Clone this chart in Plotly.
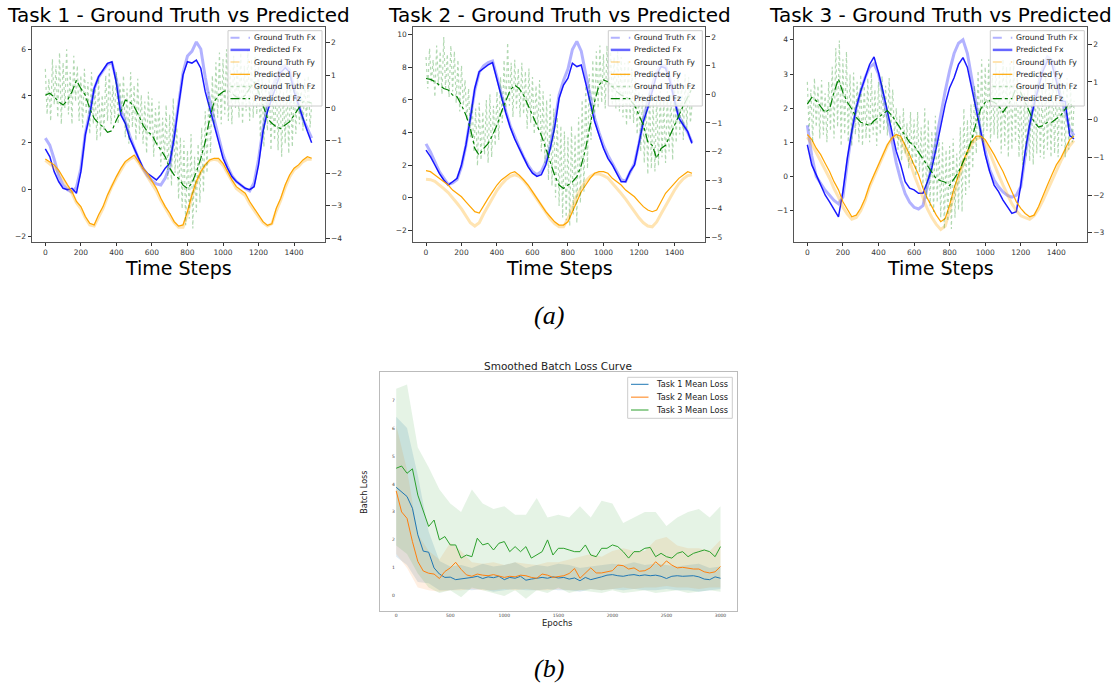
import plotly.graph_objects as go

W, H = 1118, 688
def px(x): return x / W
def py(y): return 1 - y / H

# ---------------- data: time axis ----------------
T25 = list(range(0, 1500, 25)) + [1499]
T10 = list(range(0, 1501, 10))

# ---------------- Task 1 ----------------
t1_gt_fx = [2.2,1.9,1.3,0.6,0.2,0.0,-0.1,0.1,0.9,2.4, 3.3,4.3,4.8,5.1,5.35,5.4,4.7,3.4,2.9,2.3,
            1.8,1.3,0.9,0.6,0.4,0.25,0.2,0.5,1.0,2.3, 3.8,5.0,5.7,5.9,6.3,6.0,4.8,3.8,3.0,2.2,
            1.5,1.0,0.6,0.35,0.2,0.05,-0.05,0.3,1.3,2.6, 3.6,4.3,4.8,5.2,5.3,5.1,4.3,3.7,3.0,2.6, 2.2]
t1_pr_fx = [1.74,1.41,0.77,0.35,0.06,0.0,0.06,-0.15,0.77,2.34, 3.19,4.32,4.82,5.1,5.39,5.46,4.54,3.19,2.83,2.19,
            1.77,1.34,0.92,0.7,0.56,0.42,0.63,0.92,1.13,2.19, 3.6,4.9,5.46,5.4,5.53,5.18,4.18,3.47,2.76,2.05,
            1.34,0.92,0.56,0.35,0.2,0.06,0.0,0.13,1.06,2.48, 3.33,3.9,4.47,5.0,5.2,5.0,4.18,3.6,2.97,2.48, 2.0]
t1_gt_fy = [1.25,1.1,0.95,0.75,0.45,0.15,-0.15,-0.55,-0.8,-1.2, -1.5,-1.55,-1.15,-0.8,-0.3,0.15,0.5,0.85,1.15,1.3,
            1.4,1.15,0.85,0.6,0.3,-0.05,-0.45,-0.8,-1.1,-1.4, -1.6,-1.6,-1.05,-0.3,0.3,0.75,1.05,1.25,1.3,1.25,
            1.05,0.7,0.35,0.05,-0.1,-0.25,-0.6,-0.9,-1.15,-1.4, -1.55,-1.45,-0.9,-0.45,0.1,0.55,0.85,1.0,1.2,1.3, 1.3]
t1_pr_fy = [1.31,1.2,1.06,0.84,0.49,0.2,-0.08,-0.5,-0.72,-1.14, -1.43,-1.5,-1.07,-0.72,-0.22,0.2,0.56,0.91,1.2,1.34,
            1.48,1.2,0.91,0.7,0.35,0.06,-0.36,-0.72,-1.0,-1.36, -1.55,-1.5,-0.93,-0.22,0.35,0.77,1.06,1.27,1.34,1.34,
            1.13,0.77,0.42,0.13,-0.01,-0.15,-0.5,-0.79,-1.07,-1.36, -1.52,-1.45,-0.79,-0.36,0.2,0.63,0.92,1.06,1.27,1.41, 1.34]
t1_gt_fz = [1.2,-0.2,0.9,-0.4,1.5,0.1,1.3,-0.3,1.7,-0.5,
            1.4,0.0,1.8,-0.2,1.1,-0.5,1.6,0.2,1.3,-0.4,
            1.0,-0.6,1.2,-0.2,0.8,-0.8,1.1,-0.5,0.6,-1.0,
            0.9,-0.9,0.4,-0.7,1.0,-0.4,1.2,-0.5,0.7,-0.3,
            1.1,-0.5,0.8,-0.2,1.0,-0.9,0.6,-1.1,1.1,-0.6,
            0.7,-1.0,0.9,-0.8,0.4,-1.1,0.2,-1.4,0.5,-0.9,
            0.3,-1.5,0.0,-1.2,0.2,-1.8,-0.3,-1.6,0.1,-2.2,
            -0.2,-2.4,0.3,-2.0,-0.6,-2.8,-0.9,-3.1,-1.0,-3.6,
            -1.3,-3.4,-0.8,-3.7,-1.5,-3.2,-1.1,-2.9,-0.6,-2.6,
            -0.1,-2.0,0.5,-1.4,1.0,-0.6,1.4,-0.3,1.7,-0.5,
            1.5,-0.2,1.8,-0.4,1.2,-0.5,1.6,0.0,1.4,-0.3,
            1.7,-0.5,1.3,-0.1,1.8,-0.4,1.5,-0.3,1.6,-0.2,
            1.3,-0.9,1.0,-1.2,0.8,-0.7,1.1,-1.3,0.6,-1.0,
            0.9,-1.3,1.0,-1.5,0.5,-1.1,0.8,-1.4,1.0,-1.2,
            0.8,-0.8,1.0,-0.5,0.7,-0.7,0.9,-0.4,1.0,-0.6,
            0.2]
t1_pr_fz = [0.39,0.45,0.34,0.19,0.09,0.24,0.5,0.85,0.6,0.39, -0.01,-0.32,-0.47,-0.58,-0.75,-0.7,-0.37,-0.12,0.24,0.19,
            0.04,-0.22,-0.53,-0.73,-0.83,-1.09,-1.29,-1.5,-1.85,-2.06, -2.16,-2.37,-2.47,-2.31,-1.96,-1.55,-1.04,-0.32,0.19,0.39,
            0.5,0.55,0.45,0.34,0.29,0.39,0.6,0.8,0.5,0.09, -0.32,-0.47,-0.58,-0.63,-0.53,-0.42,-0.22,-0.01,0.19,0.19, 0.15]

# ---------------- Task 2 ----------------
t2_gt_fx = [3.3,2.8,2.2,1.6,1.2,0.8,0.9,1.1,1.9,3.2, 4.9,6.6,7.7,8.1,8.3,8.4,7.4,6.3,5.3,4.4,
            3.7,3.1,2.5,2.0,1.6,1.4,1.6,2.2,3.2,4.6, 6.3,7.2,7.9,9.1,9.6,9.0,7.6,6.2,4.9,4.0,
            3.2,2.6,2.1,1.6,1.1,1.0,1.6,2.1,3.3,4.8, 5.9,6.9,7.7,8.1,8.1,7.3,6.0,5.0,4.5,4.0, 3.4]
t2_pr_fx = [2.92,2.51,2.0,1.49,1.08,0.77,0.97,1.18,2.0,3.23, 4.87,6.72,7.74,7.95,8.15,8.3,7.2,6.2,5.2,4.3,
            3.6,3.0,2.4,1.9,1.5,1.3,1.4,2.0,3.0,4.3, 6.1,6.92,7.33,8.26,8.05,8.15,7.03,5.9,4.67,3.85,
            3.03,2.41,2.0,1.49,0.97,0.97,1.59,2.0,3.23,4.67, 5.49,6.51,7.54,8.05,7.95,7.13,5.9,4.87,4.46,4.05, 3.33]
t2_gt_fy = [1.13,1.1,1.0,0.8,0.55,0.3,0.0,-0.35,-0.7,-1.1, -1.55,-1.75,-1.55,-1.0,-0.5,0.0,0.45,0.8,1.1,1.3,
            1.4,1.3,1.05,0.7,0.3,-0.1,-0.5,-0.9,-1.3,-1.6, -1.8,-1.8,-1.3,-0.6,0.1,0.6,1.0,1.3,1.45,1.45,
            1.35,1.2,0.9,0.6,0.25,-0.1,-0.5,-0.9,-1.25,-1.55, -1.75,-1.8,-1.5,-1.0,-0.5,0.0,0.45,0.85,1.15,1.35, 1.4]
t2_pr_fy = [1.65,1.59,1.38,1.18,0.97,0.77,0.46,0.26,0.05,-0.26, -0.56,-0.87,-0.95,-0.46,-0.05,0.36,0.77,1.08,1.28,1.49,
            1.59,1.38,1.08,0.77,0.36,-0.05,-0.46,-0.87,-1.18,-1.49, -1.69,-1.69,-1.49,-0.87,-0.26,0.36,0.77,1.18,1.49,1.59,
            1.59,1.49,1.18,0.97,0.77,0.46,0.26,0.05,-0.26,-0.56, -0.77,-0.87,-0.77,-0.26,0.26,0.56,0.87,1.18,1.38,1.59, 1.49]
t2_gt_fz = [1.3,0.2,1.6,0.4,1.2,-0.1,1.7,0.3,1.5,0.0,
            2.0,0.2,1.4,-0.1,1.7,0.1,1.5,-0.3,1.2,-0.6,
            1.0,-0.4,0.5,-0.9,0.2,-1.5,-0.3,-2.0,-0.5,-2.5,
            -0.3,-2.3,-0.6,-2.1,-0.2,-2.4,0.0,-2.2,-0.4,-1.8,
            0.1,-1.6,0.6,-1.0,1.2,-0.6,1.8,-0.4,1.1,-0.8,
            1.2,-0.5,0.9,-0.8,1.1,-0.7,0.8,-1.2,0.9,-1.0,
            0.6,-1.4,0.3,-1.2,0.5,-2.0,0.1,-2.4,-0.2,-3.0,
            0.0,-3.2,-0.5,-3.6,-0.8,-3.9,-1.1,-4.3,-1.3,-4.4,
            -1.5,-4.6,-1.1,-4.2,-1.4,-4.5,-0.8,-3.8,-0.2,-3.4,
            0.3,-2.6,0.7,-1.6,1.2,-0.9,1.5,-0.5,1.7,-0.3,
            1.4,-0.5,1.7,-0.2,1.6,-0.4,1.3,-0.5,1.5,-0.6,
            1.3,-0.8,1.1,-1.1,1.2,-0.9,0.9,-1.0,0.6,-1.4,
            0.1,-2.0,0.0,-2.4,-0.2,-2.8,0.1,-2.6,-0.3,-2.7,
            0.0,-2.5,0.1,-2.2,-0.2,-2.4,0.1,-2.0,0.0,-2.3,
            0.5,-1.7,0.7,-1.4,0.4,-1.6,0.7,-1.2,0.6,-1.0,
            -0.3]
t2_pr_fz = [0.55,0.52,0.44,0.32,0.2,0.15,-0.03,-0.09,-0.38,-0.73, -1.19,-1.89,-2.13,-1.89,-1.72,-1.43,-1.08,-0.61,-0.2,0.15,
            0.32,0.2,-0.03,-0.38,-0.73,-1.08,-1.43,-1.89,-2.36,-2.83, -3.17,-3.29,-3.17,-3.06,-2.88,-2.48,-1.89,-1.08,-0.26,0.32,
            0.5,0.44,0.26,0.09,-0.03,-0.09,-0.2,-0.38,-0.73,-1.08, -1.66,-1.78,-2.24,-1.89,-1.78,-1.43,-1.08,-0.73,-0.4,-0.1, 0.2]

# ---------------- Task 3 ----------------
t3_gt_fx = [1.5,0.6,0.0,-0.2,-0.4,-0.55,-0.7,-0.8,-0.6,0.4, 1.3,2.0,2.5,2.9,3.2,3.3,3.0,2.4,1.7,1.0,
            0.4,-0.1,-0.5,-0.75,-0.9,-0.95,-0.85,-0.3,0.4,1.2, 1.9,2.5,3.1,3.6,3.9,4.0,3.6,2.9,2.1,1.3,
            0.7,0.2,-0.1,-0.3,-0.45,-0.55,-0.6,-0.55,-0.3,0.6, 1.5,2.2,2.7,3.2,3.5,3.4,2.9,2.3,1.9,1.4, 1.2]
t3_pr_fx = [0.93,0.34,0.05,-0.25,-0.54,-0.74,-0.98,-1.18,-0.44,0.54, 1.32,2.01,2.5,2.89,3.28,3.5,3.04,2.5,1.91,1.32,
            0.74,0.34,-0.15,-0.34,-0.39,-0.49,-0.49,-0.15,0.25,0.83, 1.52,2.11,2.6,2.89,3.28,3.48,3.19,2.6,1.91,1.32,
            0.64,0.15,-0.25,-0.44,-0.69,-0.88,-1.08,-1.03,-0.25,0.74, 1.52,2.11,2.6,3.09,3.38,3.28,2.79,2.21,2.2,1.2, 1.1]
t3_gt_fy = [1.15,0.95,0.7,0.45,0.2,-0.05,-0.35,-0.6,-0.9,-1.1, -1.25,-1.2,-1.0,-0.7,-0.3,0.0,0.3,0.6,0.9,1.1,
            1.2,1.1,0.8,0.45,0.05,-0.3,-0.65,-0.95,-1.2,-1.4, -1.55,-1.45,-1.0,-0.5,-0.05,0.35,0.7,0.95,1.1,1.15,
            1.0,0.7,0.35,0.05,-0.25,-0.55,-0.8,-1.0,-1.15,-1.2, -1.25,-1.15,-0.95,-0.7,-0.4,-0.1,0.2,0.45,0.7,0.9, 1.05]
t3_pr_fy = [1.23,1.08,0.83,0.64,0.39,0.15,-0.15,-0.39,-0.74,-0.98, -1.18,-1.13,-0.93,-0.64,-0.25,0.05,0.34,0.64,0.93,1.13,
            1.23,1.18,0.93,0.64,0.34,0.05,-0.34,-0.64,-0.88,-1.13, -1.32,-1.23,-0.83,-0.34,0.05,0.44,0.74,1.03,1.18,1.18,
            1.08,0.88,0.64,0.39,0.15,-0.15,-0.44,-0.74,-0.93,-1.08, -1.18,-1.13,-0.88,-0.59,-0.25,0.05,0.34,0.54,0.83,1.08, 1.18]
t3_gt_fz = [1.0,-0.3,0.8,-0.6,1.1,-0.2,0.9,-0.5,1.05,-0.4,
            0.7,-0.6,1.0,-0.3,1.4,-0.5,1.9,-0.2,2.1,-0.7,
            1.6,-0.4,1.8,-0.6,1.2,-0.7,1.25,-0.4,1.0,-0.6,
            1.2,-0.7,0.9,-0.5,1.1,-0.6,1.25,-0.4,0.8,-0.7,
            1.0,-0.4,1.15,-0.3,0.9,-0.42,1.1,-0.2,0.8,-0.4,
            0.3,-0.8,0.1,-1.1,0.3,-0.9,-0.1,-1.3,0.2,-1.2,
            0.0,-1.5,0.2,-1.4,-0.2,-1.8,0.3,-2.1,0.0,-2.3,
            -0.3,-2.45,0.1,-2.2,-0.5,-2.6,-0.6,-2.9,-0.8,-2.7,
            -0.7,-2.9,-0.5,-2.6,-0.9,-2.4,-0.2,-2.45,0.3,-2.0,
            0.0,-1.8,0.4,-1.3,0.9,-0.9,1.3,-0.5,1.6,-0.6,
            1.4,-0.3,1.6,-0.6,1.2,-0.4,1.5,-0.5,1.3,-0.9,
            1.6,-0.7,1.4,-1.0,1.5,-0.8,1.6,-0.6,1.2,-1.0,
            0.9,-1.2,0.7,-1.0,0.8,-1.1,0.6,-1.2,0.9,-0.9,
            1.1,-1.0,0.8,-1.04,1.15,-0.8,0.9,-1.0,1.1,-0.9,
            1.0,-1.0,1.15,-0.7,0.8,-1.0,1.1,-0.8,0.9,-0.6,
            0.5]
t3_pr_fz = [0.41,0.59,0.5,0.33,0.19,0.28,0.72,1.08,0.72,0.46, 0.28,0.06,-0.07,-0.11,-0.16,-0.03,0.06,0.15,0.24,0.11,
            -0.07,-0.25,-0.42,-0.6,-0.69,-0.86,-1.04,-1.22,-1.39,-1.57, -1.62,-1.66,-1.75,-1.57,-1.39,-1.13,-0.86,-0.51,-0.07,0.28,
            0.46,0.5,0.46,0.37,0.19,0.37,0.55,0.86,0.72,0.46, 0.19,-0.07,-0.2,-0.16,-0.07,-0.07,0.02,0.11,0.28,0.46, 0.28]

# ---------------- Loss curves ----------------
EP50 = list(range(0, 3001, 50))
EP100 = list(range(0, 3001, 100))
loss1 = [3.88,3.7,3.55,3.13,2.18,1.6,1.56,1.0,0.78,0.66, 0.67,0.58,0.6,0.62,0.66,0.7,0.62,0.68,0.65,0.7,
         0.58,0.66,0.63,0.7,0.56,0.6,0.62,0.66,0.63,0.68, 0.64,0.66,0.6,0.64,0.54,0.66,0.58,0.62,0.68,0.74,
         0.76,0.72,0.7,0.74,0.76,0.72,0.75,0.72,0.74,0.7, 0.62,0.7,0.72,0.7,0.7,0.72,0.68,0.6,0.58,0.68, 0.63]
loss2 = [3.75,3.0,2.77,1.94,1.23,0.89,0.81,0.78,0.62,0.87, 1.0,1.2,0.95,0.75,0.7,0.78,0.74,0.72,0.76,0.7,
         0.66,0.7,0.68,0.74,0.72,0.66,0.63,0.78,0.74,0.66, 0.68,0.72,0.8,0.98,0.63,0.8,1.0,0.82,0.82,0.86,
         0.9,1.1,1.08,0.96,1.0,0.88,0.9,1.0,1.22,1.05, 1.25,1.1,1.0,1.02,0.98,0.96,0.96,0.86,0.82,0.86, 1.05]
loss3 = [4.56,4.64,4.38,4.54,3.6,3.01,2.48,2.71,2.0,2.12, 1.82,1.82,1.35,1.46,1.4,2.06,1.82,1.88,1.64,1.88,
         1.94,1.58,1.76,1.58,1.76,1.35,1.46,1.58,2.0,1.46, 1.7,1.7,1.64,1.58,1.58,1.82,1.46,1.4,1.7,1.7,
         1.82,1.76,1.58,1.35,1.58,1.58,1.7,1.73,1.4,1.52, 1.4,1.35,1.52,1.58,1.4,1.52,1.58,1.64,1.58,1.4, 1.76]
band1_hi = [6.4,6.0,4.3,2.3,1.25,1.05,1.1,1.0,1.15,1.05,1.1,1.2,1.0,1.1,1.05,1.15,1.1,1.0,1.05,1.1,1.15,1.1,1.2,1.1,1.15,1.1,1.05,1.1,1.15,1.0,1.05]
band1_lo = [1.4,1.1,0.5,0.45,0.2,0.2,0.25,0.2,0.25,0.15,0.2,0.25,0.2,0.2,0.25,0.2,0.2,0.15,0.25,0.2,0.25,0.2,0.25,0.2,0.2,0.25,0.2,0.2,0.15,0.2,0.25]
band2_hi = [6.1,4.5,2.2,1.6,1.3,1.9,1.6,1.2,1.15,1.2,1.1,1.2,1.15,1.1,1.2,1.2,1.3,1.4,1.5,1.4,1.6,1.7,1.6,1.6,2.0,2.1,1.8,1.7,1.7,1.6,2.0]
band2_lo = [1.5,1.0,0.3,0.2,0.15,0.2,0.2,0.25,0.2,0.2,0.25,0.2,0.25,0.2,0.2,0.25,0.2,0.2,0.25,0.2,0.25,0.3,0.25,0.3,0.3,0.35,0.3,0.3,0.25,0.3,0.3]
band3_hi = [7.4,7.55,5.3,4.6,3.8,3.3,3.0,3.8,3.3,3.1,3.2,2.9,2.9,3.5,2.8,2.9,2.8,3.2,2.8,3.4,3.3,2.6,2.8,3.0,3.0,2.5,2.8,3.0,3.1,2.8,3.2]
band3_lo = [1.8,1.5,0.8,0.3,0.1,0.2,-0.05,0.3,0.2,0.1,0.0,0.2,-0.1,0.2,0.1,0.3,0.1,0.2,0.15,0.1,0.2,0.1,0.15,0.2,0.1,0.15,0.2,0.1,0.15,0.2,0.15]

x_ticks_top = [0, 200, 400, 600, 800, 1000, 1200, 1400]
x_ticks_loss = [0, 500, 1000, 1500, 2000, 2500, 3000]
titles = ["Task 1 - Ground Truth vs Predicted", "Task 2 - Ground Truth vs Predicted", "Task 3 - Ground Truth vs Predicted"]
legend_labels = ["Ground Truth Fx", "Predicted Fx", "Ground Truth Fy", "Predicted Fy", "Ground Truth Fz", "Predicted Fz"]
loss_labels = ["Task 1 Mean Loss", "Task 2 Mean Loss", "Task 3 Mean Loss"]

tasks = [
    dict(gfx=t1_gt_fx, pfx=t1_pr_fx, gfy=t1_gt_fy, pfy=t1_pr_fy, gfz=t1_gt_fz, pfz=t1_pr_fz,
         yl=[-2.22, 6.93], yr=[-4.11, 2.48], ylt=[-2, 0, 2, 4, 6], yrt=[-4, -3, -2, -1, 0, 1, 2], box=(32, 325)),
    dict(gfx=t2_gt_fx, pfx=t2_pr_fx, gfy=t2_gt_fy, pfy=t2_pr_fy, gfz=t2_gt_fz, pfz=t2_pr_fz,
         yl=[-2.72, 10.47], yr=[-5.15, 2.34], ylt=[-2, 0, 2, 4, 6, 8, 10], yrt=[-5, -4, -3, -2, -1, 0, 1, 2], box=(412.7, 705.3)),
    dict(gfx=t3_gt_fx, pfx=t3_pr_fx, gfy=t3_gt_fy, pfy=t3_pr_fy, gfz=t3_gt_fz, pfz=t3_pr_fz,
         yl=[-1.91, 4.37], yr=[-3.24, 2.45], ylt=[-1, 0, 1, 2, 3, 4], yrt=[-3, -2, -1, 0, 1, 2], box=(794, 1087.3)),
]

C_GFX = "rgba(0,0,255,0.3)"
C_PFX = "rgba(0,0,255,0.9)"
C_GFY = "rgba(255,165,0,0.3)"
C_PFY = "#ffa500"
C_GFZ = "rgba(0,128,0,0.3)"
C_PFZ = "#008000"

fig = go.Figure()
layout = dict(width=W, height=H, margin=dict(l=0, r=0, t=0, b=0), paper_bgcolor="white",
              plot_bgcolor="white", showlegend=False)

TOP, BOT = 27.2, 241.8
tickfont = dict(size=7.5, color="#333", family="DejaVu Sans")
annotations = []
shapes = []

def add_legend(box, entries, row_y0, row_dy, sx0, sx1, tx, fsize):
    x0, y0, x1, y1 = box
    shapes.append(dict(type="rect", xref="paper", yref="paper", x0=px(x0), x1=px(x1), y0=py(y1), y1=py(y0),
                       fillcolor="rgba(255,255,255,0.8)", line=dict(color="#cccccc", width=1), layer="above"))
    for i, (label, color, dash, width) in enumerate(entries):
        yy = row_y0 + i * row_dy
        shapes.append(dict(type="line", xref="paper", yref="paper", x0=px(sx0), x1=px(sx1), y0=py(yy), y1=py(yy),
                           line=dict(color=color, dash=dash, width=width), layer="above"))
        annotations.append(dict(x=px(tx), y=py(yy), xref="paper", yref="paper", text=label, showarrow=False,
                                xanchor="left", yanchor="middle", borderpad=0,
                                font=dict(size=fsize, color="#222", family="DejaVu Sans")))

for i, tk in enumerate(tasks):
    xa = "x" if i == 0 else f"x{i+1}"
    yl = "y" if i == 0 else f"y{2*i+1}"
    yr = f"y{2*i+2}"
    xname = "xaxis" if i == 0 else f"xaxis{i+1}"
    ylname = "yaxis" if i == 0 else f"yaxis{2*i+1}"
    yrname = f"yaxis{2*i+2}"
    x0, x1 = tk["box"]
    fig.add_trace(go.Scatter(x=T25, y=tk["gfx"], mode="lines", line=dict(color=C_GFX, width=3), xaxis=xa, yaxis=yl, name=legend_labels[0]))
    fig.add_trace(go.Scatter(x=T25, y=tk["pfx"], mode="lines", line=dict(color=C_PFX, width=1.5), xaxis=xa, yaxis=yl, name=legend_labels[1]))
    fig.add_trace(go.Scatter(x=T25, y=tk["gfy"], mode="lines", line=dict(color=C_GFY, width=3), xaxis=xa, yaxis=yl, name=legend_labels[2]))
    fig.add_trace(go.Scatter(x=T25, y=tk["pfy"], mode="lines", line=dict(color=C_PFY, width=1.2), xaxis=xa, yaxis=yl, name=legend_labels[3]))
    fig.add_trace(go.Scatter(x=T10, y=tk["gfz"], mode="lines", line=dict(color=C_GFZ, width=1.2, dash="dot"), xaxis=xa, yaxis=yr, name=legend_labels[4]))
    fig.add_trace(go.Scatter(x=T25, y=tk["pfz"], mode="lines", line=dict(color=C_PFZ, width=1.2, dash="dashdot"), xaxis=xa, yaxis=yr, name=legend_labels[5]))

    layout[xname] = dict(domain=[px(x0), px(x1)], anchor=yl, range=[-75, 1574], tickvals=x_ticks_top,
                         ticks="outside", ticklen=3.5, tickwidth=0.8, tickcolor="#333",
                         showline=True, linecolor="#555", linewidth=1, mirror=True,
                         showgrid=False, zeroline=False, tickfont=tickfont)
    layout[ylname] = dict(domain=[py(BOT), py(TOP)], anchor=xa, range=tk["yl"], tickvals=tk["ylt"],
                          ticks="outside", ticklen=3.5, tickwidth=0.8, tickcolor="#333",
                          showline=True, linecolor="#555", linewidth=1, mirror=True,
                          showgrid=False, zeroline=False, tickfont=tickfont)
    layout[yrname] = dict(overlaying=yl, anchor=xa, side="right", range=tk["yr"], tickvals=tk["yrt"],
                          ticks="outside", ticklen=3.5, tickwidth=0.8, tickcolor="#333",
                          showline=True, linecolor="#555", linewidth=1,
                          showgrid=False, zeroline=False, tickfont=tickfont)
    cx = (x0 + x1) / 2
    annotations.append(dict(x=px(cx), y=py(15), xref="paper", yref="paper", text=titles[i], showarrow=False,
                            xanchor="center", yanchor="middle", font=dict(size=20, color="black", family="DejaVu Sans")))
    annotations.append(dict(x=px(cx), y=py(267.5), xref="paper", yref="paper", text="Time Steps", showarrow=False,
                            xanchor="center", yanchor="middle", borderpad=0,
                            font=dict(size=19, color="black", family="DejaVu Sans")))
    lx1 = x1 - 3
    lx0 = lx1 - 94
    add_legend((lx0, 30.7, lx1, 106),
               [(legend_labels[0], C_GFX, "dash", 2), (legend_labels[1], "rgba(0,0,255,0.6)", "solid", 2.5),
                (legend_labels[2], C_GFY, "dash", 2), (legend_labels[3], C_PFY, "solid", 1.2),
                (legend_labels[4], C_GFZ, "dot", 1.4), (legend_labels[5], C_PFZ, "dashdot", 1.2)],
               37.7, 12.2, lx0 + 2.5, lx0 + 22, lx0 + 25, 7.7)

# ---------------- loss plot ----------------
band_cols = ["rgba(31,119,180,0.15)", "rgba(255,127,14,0.12)", "rgba(44,160,44,0.12)"]
line_cols = ["#1f77b4", "#ff7f0e", "#2ca02c"]
bands = [(band1_hi, band1_lo), (band2_hi, band2_lo), (band3_hi, band3_lo)]
losses = [loss1, loss2, loss3]
for k in range(3):
    hi, lo = bands[k]
    fig.add_trace(go.Scatter(x=EP100, y=hi, mode="lines", line=dict(width=0), xaxis="x4", yaxis="y7", hoverinfo="skip"))
    fig.add_trace(go.Scatter(x=EP100, y=lo, mode="lines", line=dict(width=0), fill="tonexty",
                             fillcolor=band_cols[k], xaxis="x4", yaxis="y7", hoverinfo="skip"))
for k in range(3):
    fig.add_trace(go.Scatter(x=EP50, y=losses[k], mode="lines", line=dict(color=line_cols[k], width=1),
                             xaxis="x4", yaxis="y7", name=loss_labels[k]))

LX0, LX1, LT, LB = 380, 736.7, 371.7, 611
small = dict(size=4.5, color="#444", family="DejaVu Sans")
layout["xaxis4"] = dict(domain=[px(LX0), px(LX1)], anchor="y7", range=[-150, 3150], tickvals=x_ticks_loss,
                        ticks="", showline=True, linecolor="#bbbbbb", linewidth=1, mirror=True,
                        showgrid=False, zeroline=False, tickfont=small)
layout["yaxis7"] = dict(domain=[py(LB), py(LT)], anchor="x4", range=[-0.54, 8.01], tickvals=[0, 1, 2, 3, 4, 5, 6, 7],
                        ticks="", showline=True, linecolor="#bbbbbb", linewidth=1, mirror=True,
                        ticklabelposition="inside", ticklabelstandoff=10,
                        showgrid=False, zeroline=False, tickfont=small)
annotations.append(dict(x=px((LX0 + LX1) / 2), y=py(365.5), xref="paper", yref="paper", text="Smoothed Batch Loss Curve",
                        showarrow=False, xanchor="center", yanchor="middle", borderpad=0,
                        font=dict(size=10.5, color="#222", family="DejaVu Sans")))
annotations.append(dict(x=px(557.7), y=py(622.7), xref="paper", yref="paper", text="Epochs",
                        showarrow=False, xanchor="center", yanchor="middle", font=dict(size=8.5, color="#222", family="DejaVu Sans")))
annotations.append(dict(x=px(365), y=py(491.7), xref="paper", yref="paper", text="Batch Loss", textangle=-90,
                        showarrow=False, xanchor="center", yanchor="middle", font=dict(size=8, color="#222", family="DejaVu Sans")))
add_legend((627.7, 377.3, 732.3, 418.3),
           [(loss_labels[0], line_cols[0], "solid", 1), (loss_labels[1], line_cols[1], "solid", 1),
            (loss_labels[2], line_cols[2], "solid", 1)],
           384.3, 12.85, 631, 648.5, 655, 8.2)

# captions
annotations.append(dict(x=px(549), y=py(315), xref="paper", yref="paper", text="<i>(a)</i>", showarrow=False,
                        xanchor="center", yanchor="middle", font=dict(size=26, color="black", family="Liberation Serif")))
annotations.append(dict(x=px(549), y=py(668), xref="paper", yref="paper", text="<i>(b)</i>", showarrow=False,
                        xanchor="center", yanchor="middle", font=dict(size=26, color="black", family="Liberation Serif")))

layout["annotations"] = annotations
layout["shapes"] = shapes
fig.update_layout(**layout)
fig.write_html("out.html")
